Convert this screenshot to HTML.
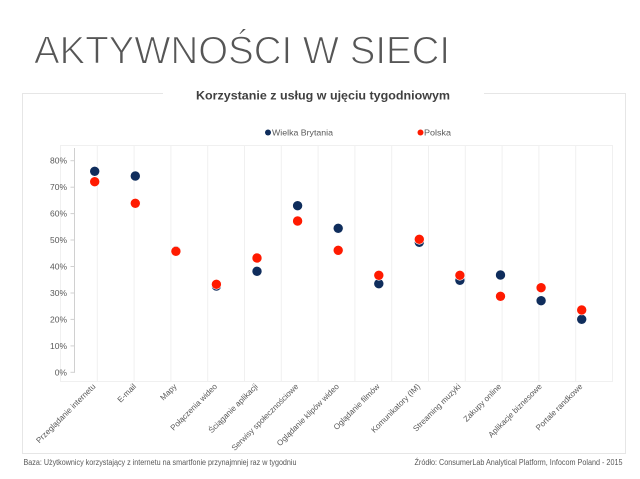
<!DOCTYPE html>
<html><head><meta charset="utf-8"><style>
html,body{margin:0;padding:0;background:#fff;}
svg{display:block;}
text{font-family:"Liberation Sans",Arial,sans-serif;}
</style></head><body>
<svg width="640" height="479" viewBox="0 0 640 479" xmlns="http://www.w3.org/2000/svg">
<rect width="640" height="479" fill="#fff"/>
<!-- Main title -->
<text x="34" y="63.5" font-size="39" fill="#565656" stroke="#fff" stroke-width="1.1" textLength="416" lengthAdjust="spacingAndGlyphs">AKTYWNOŚCI W SIECI</text>

<!-- chart container border -->
<path d="M163,93.5 H22.5 V453.5 H625.5 V93.5 H484" fill="none" stroke="#e6e6e6" stroke-width="1"/>

<!-- subtitle -->
<text x="323" y="99.5" font-size="12" font-weight="bold" fill="#404040" text-anchor="middle" textLength="254" lengthAdjust="spacingAndGlyphs">Korzystanie z usług w ujęciu tygodniowym</text>

<!-- legend -->
<circle cx="268" cy="132.5" r="3" fill="#0f2d5c"/>
<text x="272" y="135.5" font-size="8.5" fill="#595959" textLength="61" lengthAdjust="spacingAndGlyphs">Wielka Brytania</text>
<circle cx="420.5" cy="132.5" r="3" fill="#ff1a00"/>
<text x="424" y="135.5" font-size="8.5" fill="#595959" textLength="27" lengthAdjust="spacingAndGlyphs">Polska</text>

<!-- plot area grid -->
<g stroke="#f0f0f0" stroke-width="1" fill="none">
<rect x="60.5" y="145.5" width="552" height="236"/>
<line x1="97.3" y1="145" x2="97.3" y2="381.5"/>
<line x1="134.1" y1="145" x2="134.1" y2="381.5"/>
<line x1="170.9" y1="145" x2="170.9" y2="381.5"/>
<line x1="207.7" y1="145" x2="207.7" y2="381.5"/>
<line x1="244.5" y1="145" x2="244.5" y2="381.5"/>
<line x1="281.3" y1="145" x2="281.3" y2="381.5"/>
<line x1="318.1" y1="145" x2="318.1" y2="381.5"/>
<line x1="354.9" y1="145" x2="354.9" y2="381.5"/>
<line x1="391.7" y1="145" x2="391.7" y2="381.5"/>
<line x1="428.5" y1="145" x2="428.5" y2="381.5"/>
<line x1="465.3" y1="145" x2="465.3" y2="381.5"/>
<line x1="502.1" y1="145" x2="502.1" y2="381.5"/>
<line x1="538.9" y1="145" x2="538.9" y2="381.5"/>
<line x1="575.7" y1="145" x2="575.7" y2="381.5"/>
</g>

<!-- y axis -->
<g stroke="#d0d0d0" stroke-width="1">
<line x1="74.5" y1="148" x2="74.5" y2="372.8"/>
<line x1="70.5" y1="372.3" x2="74.5" y2="372.3"/>
<line x1="70.5" y1="345.9" x2="74.5" y2="345.9"/>
<line x1="70.5" y1="319.4" x2="74.5" y2="319.4"/>
<line x1="70.5" y1="293" x2="74.5" y2="293"/>
<line x1="70.5" y1="266.5" x2="74.5" y2="266.5"/>
<line x1="70.5" y1="240" x2="74.5" y2="240"/>
<line x1="70.5" y1="213.6" x2="74.5" y2="213.6"/>
<line x1="70.5" y1="187.2" x2="74.5" y2="187.2"/>
<line x1="70.5" y1="160.7" x2="74.5" y2="160.7"/>
</g>
<g font-size="8.5" fill="#595959" text-anchor="end">
<text x="67" y="375.3">0%</text>
<text x="67" y="348.9">10%</text>
<text x="67" y="322.4">20%</text>
<text x="67" y="296">30%</text>
<text x="67" y="269.5">40%</text>
<text x="67" y="243">50%</text>
<text x="67" y="216.6">60%</text>
<text x="67" y="190.2">70%</text>
<text x="67" y="163.7">80%</text>
</g>

<!-- x labels -->
<g font-size="8" fill="#595959" text-anchor="end">
<text transform="translate(96,387) rotate(-45)">Przeglądanie internetu</text>
<text transform="translate(136.6,387) rotate(-45)">E-mail</text>
<text transform="translate(177.2,387) rotate(-45)">Mapy</text>
<text transform="translate(217.7,387) rotate(-45)">Połączenia wideo</text>
<text transform="translate(258.3,387) rotate(-45)">Ściąganie aplikacji</text>
<text transform="translate(298.9,387) rotate(-45)">Serwisy społecznościowe</text>
<text transform="translate(339.5,387) rotate(-45)">Oglądanie klipów wideo</text>
<text transform="translate(380.1,387) rotate(-45)">Oglądanie filmów</text>
<text transform="translate(420.6,387) rotate(-45)">Komunikatory (IM)</text>
<text transform="translate(461.2,387) rotate(-45)">Streaming muzyki</text>
<text transform="translate(501.8,387) rotate(-45)">Zakupy online</text>
<text transform="translate(542.4,387) rotate(-45)">Aplikacje biznesowe</text>
<text transform="translate(583,387) rotate(-45)">Portale randkowe</text>
</g>

<!-- UK series -->
<g fill="#0f2d5c" stroke="#fff" stroke-width="0.6">
<circle cx="94.7" cy="171.3" r="5"/>
<circle cx="135.3" cy="176" r="5"/>
<circle cx="175.9" cy="250.6" r="5"/>
<circle cx="216.4" cy="286" r="5"/>
<circle cx="257" cy="271.3" r="5"/>
<circle cx="297.6" cy="205.7" r="5"/>
<circle cx="338.2" cy="228.3" r="5"/>
<circle cx="378.8" cy="283.7" r="5"/>
<circle cx="419.3" cy="242.3" r="5"/>
<circle cx="459.9" cy="280.3" r="5"/>
<circle cx="500.5" cy="275" r="5"/>
<circle cx="541.1" cy="300.7" r="5"/>
<circle cx="581.7" cy="319.3" r="5"/>
</g>
<!-- Polska series -->
<g fill="#ff1a00" stroke="#fff" stroke-width="0.6">
<circle cx="94.7" cy="181.7" r="5"/>
<circle cx="135.3" cy="203.3" r="5"/>
<circle cx="175.9" cy="251.3" r="5"/>
<circle cx="216.4" cy="284.3" r="5"/>
<circle cx="257" cy="258" r="5"/>
<circle cx="297.6" cy="221" r="5"/>
<circle cx="338.2" cy="250.3" r="5"/>
<circle cx="378.8" cy="275.3" r="5"/>
<circle cx="419.3" cy="239.3" r="5"/>
<circle cx="459.9" cy="275.3" r="5"/>
<circle cx="500.5" cy="296.3" r="5"/>
<circle cx="541.1" cy="287.7" r="5"/>
<circle cx="581.7" cy="310" r="5"/>
</g>

<!-- footer -->
<text x="23.5" y="465" font-size="8" fill="#595959" textLength="273" lengthAdjust="spacingAndGlyphs">Baza: Użytkownicy korzystający z internetu na smartfonie przynajmniej raz w tygodniu</text>
<text x="414.5" y="465" font-size="8" fill="#595959" textLength="208" lengthAdjust="spacingAndGlyphs">Źródło: ConsumerLab Analytical Platform, Infocom Poland - 2015</text>
</svg>
</body></html>
